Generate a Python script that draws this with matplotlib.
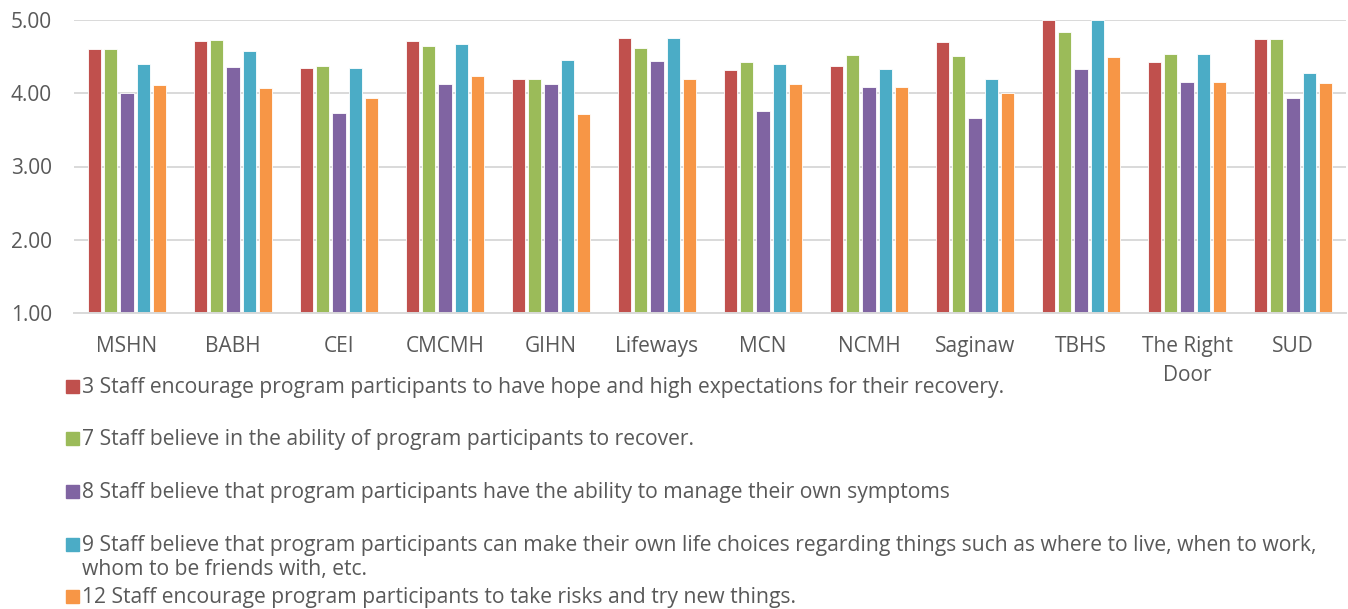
import numpy as np
import matplotlib.pyplot as plt
from matplotlib.patches import Rectangle

# categorias e valores
categories = ['MSHN', 'BABH', 'CEI', 'CMCMH', 'GIHN', 'Lifeways', 'MCN',
              'NCMH', 'Saginaw', 'TBHS', 'The Right\nDoor', 'SUD']
q3 = [4.61, 4.72, 4.35, 4.72, 4.20, 4.75, 4.32, 4.37, 4.70, 5.00, 4.43, 4.74]
q7 = [4.61, 4.73, 4.37, 4.65, 4.20, 4.62, 4.43, 4.52, 4.51, 4.83, 4.53, 4.74]
q8 = [4.00, 4.36, 3.73, 4.12, 4.13, 4.44, 3.76, 4.08, 3.66, 4.33, 4.15, 3.94]
q9 = [4.40, 4.57, 4.35, 4.67, 4.46, 4.75, 4.40, 4.33, 4.19, 5.00, 4.53, 4.27]
q12 = [4.11, 4.07, 3.94, 4.24, 3.72, 4.20, 4.12, 4.09, 4.00, 4.50, 4.16, 4.14]

labels = [
    '3 Staff encourage program participants to have hope and high expectations for their recovery.',
    '7 Staff believe in the ability of program participants to recover.',
    '8 Staff believe that program participants have the ability to manage their own symptoms',
    '9 Staff believe that program participants can make their own life choices regarding things such as where to live, when to work,\nwhom to be friends with, etc.',
    '12 Staff encourage program participants to take risks and try new things.',
]
series = [q3, q7, q8, q9, q12]
colors = ['#C0504D', '#9BBB59', '#8064A2', '#4BACC6', '#F79646']

plt.rcParams['font.family'] = ['Open Sans', 'DejaVu Sans']

fig = plt.figure(figsize=(13.48, 6.09), dpi=100)
ax = fig.add_axes([74 / 1348, 1 - 313 / 609, 1272 / 1348, 293 / 609])

x = np.arange(len(categories))
step = 0.154
width = 0.123
for i, (vals, c) in enumerate(zip(series, colors)):
    ax.bar(x + (i - 2) * step, np.array(vals) - 1, bottom=1, width=width,
           color=c, edgecolor='white', linewidth=0.6, zorder=3)

ax.set_xlim(-0.5, len(categories) - 0.5)
ax.set_ylim(1, 5)
ax.set_yticks([1, 2, 3, 4, 5])
ax.set_yticklabels([f'{v:.2f}' for v in [1, 2, 3, 4, 5]])
ax.set_xticks(x)
ax.set_xticklabels(categories, linespacing=1.5)
ax.yaxis.grid(True, color='#D9D9D9', linewidth=1.4, zorder=0)
for s in ['top', 'right', 'left']:
    ax.spines[s].set_visible(False)
ax.spines['bottom'].set_color('#D9D9D9')
ax.spines['bottom'].set_linewidth(1.4)
ax.spines['bottom'].set_zorder(4)
ax.tick_params(axis='both', length=0, colors='#595959', labelsize=15)
ax.tick_params(axis='x', pad=16.5)
ax.tick_params(axis='y', pad=16)

# legenda manual
ys = [386, 438, 491, 544, 596]
for lab, c, yy in zip(labels, colors, ys):
    fig.add_artist(Rectangle((66 / 1348, 1 - (yy + 7) / 609), 13 / 1348, 13 / 609,
                             transform=fig.transFigure, color=c))
    for k, line in enumerate(lab.split('\n')):
        fig.text(82 / 1348, 1 - (yy + 7 + 24 * k) / 609, line, fontsize=15.2,
                 color='#595959', va='baseline', ha='left')

fig.savefig('out.png', dpi=100)
